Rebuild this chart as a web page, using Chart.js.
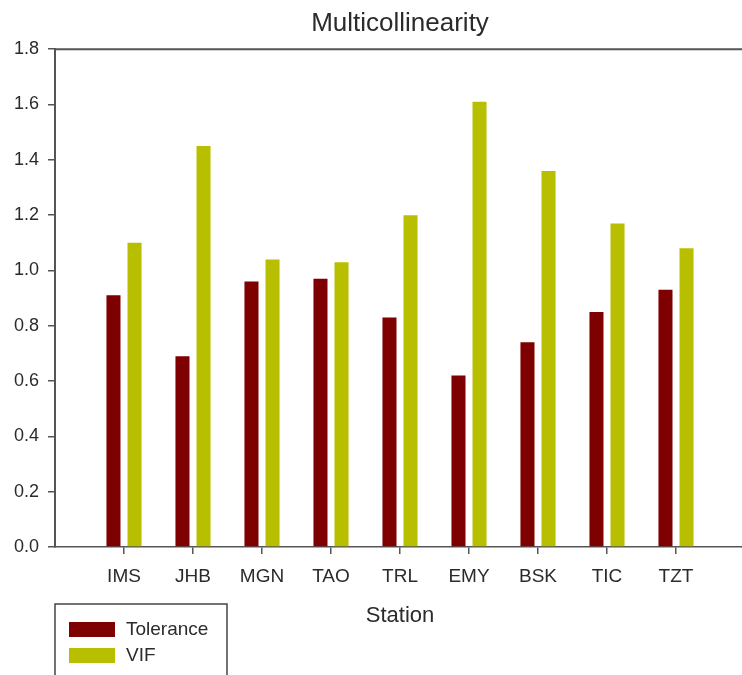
<!DOCTYPE html>
<html>
<head>
<meta charset="utf-8">
<script src="https://cdn.jsdelivr.net/npm/chart.js@4.4.1/dist/chart.umd.min.js"></script>
<style>
  html, body { margin: 0; padding: 0; background: #fff; }
  #wrap { width: 742px; height: 675px; overflow: hidden; }
</style>
</head>
<body>
<div id="wrap"><canvas id="chart" width="760" height="675"></canvas></div>
<script>
let stations = ['IMS', 'JHB', 'MGN', 'TAO', 'TRL', 'EMY', 'BSK', 'TIC', 'TZT'];
let tolerance = [0.91, 0.69, 0.96, 0.97, 0.83, 0.62, 0.74, 0.85, 0.93];
let vif = [1.10, 1.45, 1.04, 1.03, 1.20, 1.61, 1.36, 1.17, 1.08];
let yTicks = [0, 0.2, 0.4, 0.6, 0.8, 1.0, 1.2, 1.4, 1.6, 1.8];

let axisColor = '#555';
let textColor = '#2b2b2b';
let font = 'Liberation Sans, Arial, sans-serif';

// stations sit at x = 1..9 on a 0..10 axis
let toPoints = (vals) => vals.map((v, i) => ({ x: i + 1, y: v }));

// box line along the top of the plot
let frame = {
    id: 'frame',
    afterDatasetsDraw(chart) {
        let { ctx, chartArea: a } = chart;
        ctx.save();
        ctx.strokeStyle = axisColor;
        ctx.lineWidth = 2;
        ctx.beginPath();
        ctx.moveTo(a.left, a.top);
        ctx.lineTo(a.right, a.top);
        ctx.lineTo(a.right, a.bottom);
        ctx.stroke();
        ctx.restore();
    }
};

// boxed legend in the lower left corner
let boxLegend = {
    id: 'boxLegend',
    afterDraw(chart) {
        let ctx = chart.ctx;
        ctx.save();
        ctx.strokeStyle = '#444';
        ctx.lineWidth = 1.5;
        ctx.strokeRect(55, 604, 172, 100);
        ctx.font = '19px ' + font;
        ctx.textBaseline = 'middle';
        chart.data.datasets.forEach((ds, i) => {
            let y = 622 + i * 26;
            ctx.fillStyle = ds.backgroundColor;
            ctx.fillRect(69, y, 46, 15);
            ctx.fillStyle = textColor;
            ctx.fillText(ds.label, 126, y + 8);
        });
        ctx.restore();
    }
};

let ctx = document.getElementById('chart').getContext('2d');
let myChart = new Chart(ctx, {
    type: 'bar',
    data: {
        datasets: [{
            label: 'Tolerance',
            data: toPoints(tolerance),
            backgroundColor: '#7f0000'
        }, {
            label: 'VIF',
            data: toPoints(vif),
            backgroundColor: '#b8bf00'
        }]
    },
    options: {
        responsive: false,
        animation: false,
        categoryPercentage: 0.61,
        barPercentage: 0.667,
        layout: { padding: { left: 0, right: 15, top: 0, bottom: 0 } },
        plugins: {
            legend: { display: false },
            tooltip: { enabled: false },
            title: {
                display: true,
                text: 'Multicollinearity',
                fullSize: false,
                color: textColor,
                font: { family: font, size: 26, weight: 'normal' },
                padding: { top: 8, bottom: 10 }
            }
        },
        scales: {
            x: {
                type: 'linear',
                min: 0,
                max: 10,
                offset: false,
                afterFit: (s) => { s.height = 128; },
                afterBuildTicks: (s) => { s.ticks = stations.map((_, i) => ({ value: i + 1 })); },
                ticks: {
                    callback: (v) => stations[v - 1],
                    color: textColor,
                    font: { family: font, size: 19 },
                    padding: 11,
                    maxRotation: 0
                },
                grid: { offset: false, drawOnChartArea: false, drawTicks: true, tickLength: 7, color: axisColor, lineWidth: 1.5 },
                border: { color: axisColor, width: 1.5 },
                title: {
                    display: true,
                    text: 'Station',
                    color: textColor,
                    font: { family: font, size: 22 },
                    padding: { top: 4, bottom: 46 }
                }
            },
            y: {
                min: 0,
                max: 1.8,
                afterFit: (s) => { s.width = 55; },
                afterBuildTicks: (s) => { s.ticks = yTicks.map((v) => ({ value: v })); },
                ticks: {
                    callback: (v) => v.toFixed(1),
                    color: textColor,
                    font: { family: font, size: 18 },
                    padding: 9
                },
                grid: { drawOnChartArea: false, drawTicks: true, tickLength: 7, color: axisColor, lineWidth: 1.5 },
                border: { color: axisColor, width: 2 }
            }
        }
    },
    plugins: [frame, boxLegend]
});
</script>
</body>
</html>
